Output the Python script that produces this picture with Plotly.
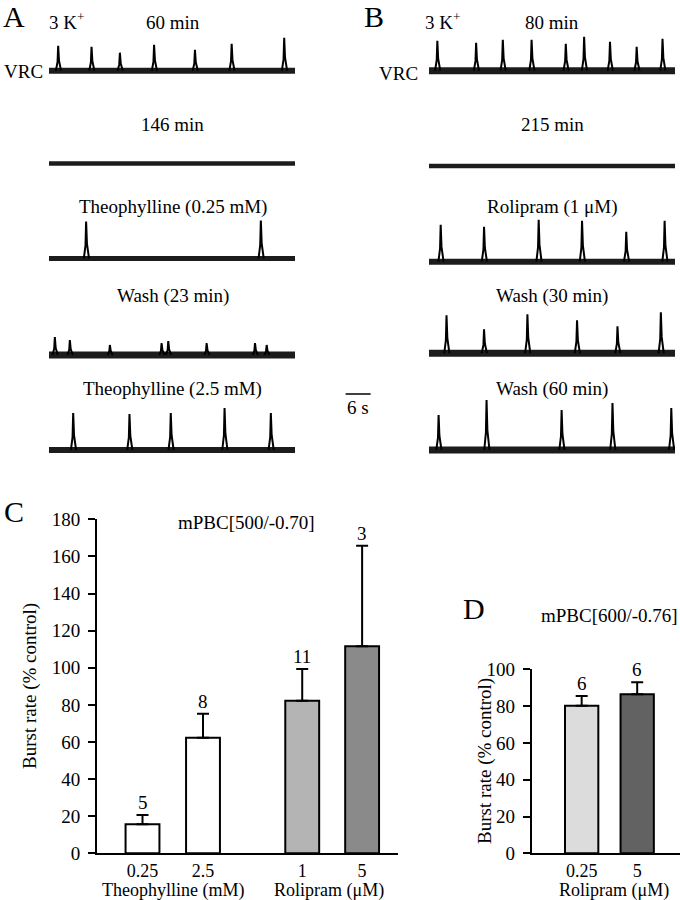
import plotly.graph_objects as go

FONT = "Liberation Serif, Times New Roman, serif"
W, H = 680, 900

# ---------------- DATA ----------------
# Recorded VRC traces: burst times (s) and burst amplitudes (arb. units)
rec_duration = 59.0
a_labels = ["60 min", "146 min", "Theophylline (0.25 mM)", "Wash (23 min)", "Theophylline (2.5 mM)"]
b_labels = ["80 min", "215 min", "Rolipram (1 μM)", "Wash (30 min)", "Wash (60 min)"]

a1_times = [2.2, 10.2, 17.0, 25.2, 35.0, 43.8, 56.4]
a1_amps = [25, 24, 18, 26, 21, 27, 33]
a2_times = []
a2_amps = []
a3_times = [8.9, 50.8]
a3_amps = [37, 38]
a4_times = [1.4, 5.0, 14.6, 27.0, 28.6, 37.8, 49.4, 52.2]
a4_amps = [18, 15, 10, 12, 14, 12, 12, 10]
a5_times = [5.8, 19.3, 29.2, 42.1, 53.2]
a5_amps = [37, 36, 37, 42, 37]

b1_times = [2.0, 11.3, 17.7, 24.6, 32.8, 37.2, 43.4, 49.8, 56.0]
b1_amps = [30, 28, 31, 31, 27, 34, 29, 24, 32]
b2_times = []
b2_amps = []
b3_times = [2.8, 13.2, 26.3, 36.7, 47.3, 56.5]
b3_amps = [37, 35, 42, 41, 30, 41]
b4_times = [4.2, 13.2, 23.6, 35.5, 45.2, 55.6]
b4_amps = [38, 24, 39, 33, 27, 41]
b5_times = [2.3, 13.8, 31.8, 44.0, 58.1]
b5_amps = [35, 50, 40, 47, 42]

scale_bar_s = 6

# Panel C
c_cats = ["0.25", "2.5", "1", "5"]
c_means = [15.6, 62.3, 82.2, 111.6]
c_sem = [5.0, 12.9, 17.1, 54.2]
c_n = ["5", "8", "11", "3"]
c_groups = ["Theophylline (mM)", "Rolipram (μM)"]
c_title = "mPBC[500/-0.70]"

# Panel D
d_cats = ["0.25", "5"]
d_means = [80.2, 86.4]
d_sem = [5.3, 6.5]
d_n = ["6", "6"]
d_group = "Rolipram (μM)"
d_title = "mPBC[600/-0.76]"

# ---------------- LAYOUT CONSTANTS ----------------
def px(x):
    return x / W

def py(y):
    return 1 - y / H

PXS = 4.17  # pixels per second
a_x0, b_x0 = 49, 429
a_base = [70.7, 163.5, 258.5, 355, 450]
b_base = [70.7, 166, 261.7, 353.3, 450]
band_w = [6, 4.5, 5, 7, 6]
b_band_w = [7, 4.5, 6, 7, 7]
label_y = [22, 124, 207, 296, 389]

fig = go.Figure()

spike_dt = [-0.55, -0.15, 0, 0.2, 0.7]
spike_rel = [0, 0.35, 1, 0.4, 0]


def add_row(times, amps, base, bw, xa, ya):
    fig.add_trace(go.Scatter(x=[0, rec_duration], y=[-base, -base], mode="lines",
                             line=dict(color="#1c1c1c", width=bw), xaxis=xa, yaxis=ya,
                             showlegend=False, hoverinfo="skip"))
    xs, ys = [], []
    for t, a in zip(times, amps):
        for dt, r in zip(spike_dt, spike_rel):
            xs.append(min(max(t + dt, 0), rec_duration))
            ys.append(-base + r * a)
        xs.append(None)
        ys.append(None)
    if xs:
        fig.add_trace(go.Scatter(x=xs, y=ys, mode="lines",
                                 line=dict(color="black", width=2), xaxis=xa, yaxis=ya,
                                 showlegend=False, hoverinfo="skip"))


a_rows = [(a1_times, a1_amps), (a2_times, a2_amps), (a3_times, a3_amps), (a4_times, a4_amps), (a5_times, a5_amps)]
b_rows = [(b1_times, b1_amps), (b2_times, b2_amps), (b3_times, b3_amps), (b4_times, b4_amps), (b5_times, b5_amps)]
for i, (t, a) in enumerate(a_rows):
    add_row(t, a, a_base[i], band_w[i], "x", "y")
for i, (t, a) in enumerate(b_rows):
    add_row(t, a, b_base[i], b_band_w[i], "x2", "y2")

# scale bar in column B axis (left of traces)
fig.add_trace(go.Scatter(x=[-20, -20 + scale_bar_s], y=[-394, -394], mode="lines",
                         line=dict(color="black", width=1.5), xaxis="x2", yaxis="y2",
                         showlegend=False, hoverinfo="skip"))

# ---- Panel C bars ----
c_pos = [1, 2, 3.64, 4.63]
c_colors = ["white", "white", "#b4b4b4", "#8a8a8a"]
fig.add_trace(go.Bar(x=c_pos, y=c_means, width=0.56, xaxis="x3", yaxis="y3",
                     marker=dict(color=c_colors, line=dict(color="black", width=2)),
                     error_y=dict(type="data", symmetric=False, array=c_sem,
                                  arrayminus=[0] * len(c_sem), color="black", thickness=2, width=6),
                     showlegend=False, hoverinfo="skip"))

d_pos = [1, 2]
d_colors = ["#dcdcdc", "#626262"]
fig.add_trace(go.Bar(x=d_pos, y=d_means, width=0.6, xaxis="x4", yaxis="y4",
                     marker=dict(color=d_colors, line=dict(color="black", width=2)),
                     error_y=dict(type="data", symmetric=False, array=d_sem,
                                  arrayminus=[0] * len(d_sem), color="black", thickness=2, width=6),
                     showlegend=False, hoverinfo="skip"))

tfont = dict(family=FONT, size=19, color="black")
xfont = dict(family=FONT, size=18, color="black")
hidden = dict(visible=False, showgrid=False, zeroline=False, fixedrange=True, automargin=False)

bar_y = dict(showline=True, linecolor="black", linewidth=2, ticks="outside", ticklen=7,
             tickwidth=2, tickcolor="black", showgrid=False, zeroline=False,
             tickfont=tfont, ticklabelstandoff=4, automargin=False)
bar_x = dict(showline=True, linecolor="black", linewidth=2, ticks="", showgrid=False,
             zeroline=False, tickfont=xfont, automargin=False, ticklabelstandoff=0)

fig.update_layout(
    template="none",
    width=W, height=H, margin=dict(l=0, r=0, t=0, b=0, pad=0), autosize=False,
    paper_bgcolor="white", plot_bgcolor="white",
    font=tfont,
    xaxis=dict(domain=[px(a_x0), px(a_x0 + rec_duration * PXS)], range=[0, rec_duration], anchor="y", **hidden),
    yaxis=dict(domain=[py(470), py(20)], range=[-470, -20], anchor="x", **hidden),
    xaxis2=dict(domain=[px(340), px(b_x0 + rec_duration * PXS)],
                range=[(340 - b_x0) / PXS, rec_duration], anchor="y2", **hidden),
    yaxis2=dict(domain=[py(470), py(20)], range=[-470, -20], anchor="x2", **hidden),
    xaxis3=dict(domain=[px(97), px(398)], range=[0.248, 5.223], anchor="y3",
                tickvals=c_pos, ticktext=c_cats, **bar_x),
    yaxis3=dict(domain=[py(853.3), py(519.3)], range=[0, 180], anchor="x3",
                tickvals=list(range(0, 181, 20)), **bar_y),
    xaxis4=dict(domain=[px(531.7), 1.0], range=[0.1, 2.771], anchor="y4",
                tickvals=d_pos, ticktext=d_cats, **bar_x),
    yaxis4=dict(domain=[py(853.3), py(669.3)], range=[0, 100], anchor="x4",
                tickvals=list(range(0, 101, 20)), **bar_y),
)

ann = []


def text(x, y, s, size=19, **kw):
    d = dict(x=px(x), y=py(y), xref="paper", yref="paper", text=s, showarrow=False,
             font=dict(family=FONT, size=size, color="black"), xanchor="center", yanchor="middle",
             borderpad=0)
    d.update(kw)
    ann.append(d)


# trace panel labels
text(14, 16, "A", size=30)
text(374, 16, "B", size=30)
text(66, 21, "3 K<sup>+</sup>")
text(442, 21, "3 K<sup>+</sup>")
text(23, 71, "VRC")
text(398, 73, "VRC")
for i in range(5):
    text(172.5, label_y[i], a_labels[i])
    text(552, label_y[i], b_labels[i])
ann.append(dict(x=-20 + scale_bar_s / 2, y=-407, xref="x2", yref="y2", text="6 s", showarrow=False,
                font=dict(family=FONT, size=19, color="black"), xanchor="center", yanchor="middle"))

# panel C
text(14, 511, "C", size=30)
text(246, 522, c_title)
text(30, 686, "Burst rate (% control)", textangle=-90)
text(173, 890, c_groups[0], size=18)
text(329, 890, c_groups[1], size=18)
for p, m, s, n in zip(c_pos, c_means, c_sem, c_n):
    ann.append(dict(x=p, y=m + s, xref="x3", yref="y3", text=n, showarrow=False, yshift=0,
                    font=dict(family=FONT, size=19, color="black"), xanchor="center", yanchor="bottom"))

# panel D
text(474, 608, "D", size=30)
text(609, 615, d_title)
text(485, 761, "Burst rate (% control)", textangle=-90)
text(614, 890, d_group, size=18)
for p, m, s, n in zip(d_pos, d_means, d_sem, d_n):
    ann.append(dict(x=p, y=m + s, xref="x4", yref="y4", text=n, showarrow=False, yshift=0,
                    font=dict(family=FONT, size=19, color="black"), xanchor="center", yanchor="bottom"))

fig.update_layout(annotations=ann)
fig.write_html("out.html", config={"displayModeBar": False},
               post_script="document.body.style.margin='0';document.body.style.overflow='hidden';")
